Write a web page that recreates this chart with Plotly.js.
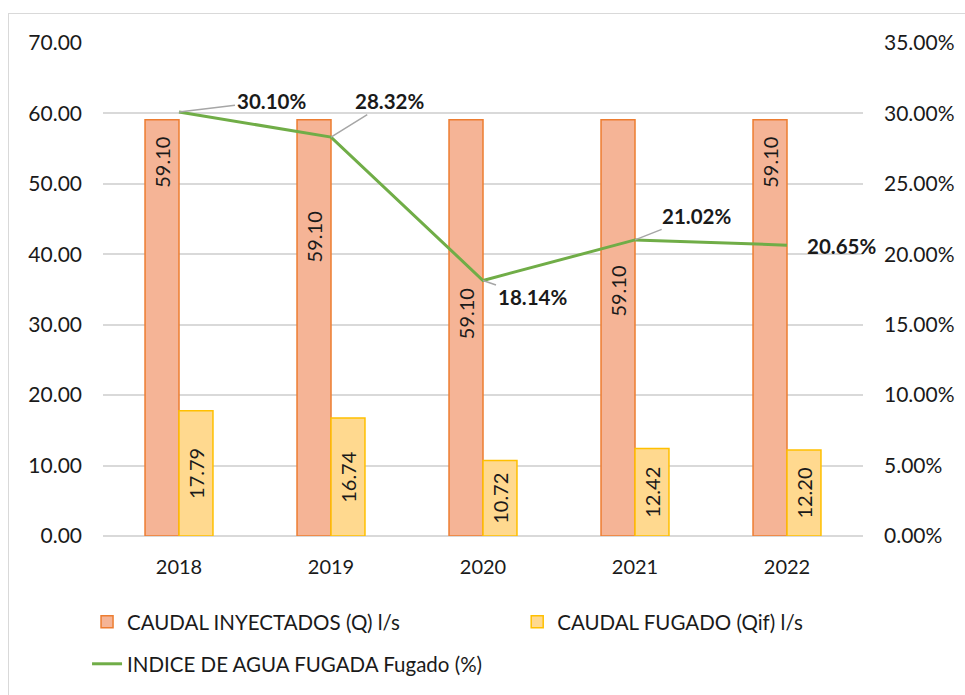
<!DOCTYPE html>
<html>
<head>
<meta charset="utf-8">
<script src="https://cdn.plot.ly/plotly-3.0.1.min.js"></script>
<style>
  html, body { margin: 0; padding: 0; background: #fff; overflow: hidden; }
  #chart { width: 965px; height: 695px; }
  #frame { position: absolute; left: 8px; top: 13px; width: 1200px; height: 1000px;
           border-left: 1.5px solid #D9D9D9; border-top: 1.5px solid #D9D9D9; pointer-events: none; }
</style>
</head>
<body>
<div id="chart"></div>
<div id="frame"></div>
<script>
// ---- data ----
const years = ['2018', '2019', '2020', '2021', '2022'];
const caudalInyectado = [59.10, 59.10, 59.10, 59.10, 59.10];
const caudalFugado = [17.79, 16.74, 10.72, 12.42, 12.20];
const indiceFugado = [0.3010, 0.2832, 0.1814, 0.2102, 0.2065];

const seriesNames = ['CAUDAL INYECTADOS (Q) l/s', 'CAUDAL FUGADO (Qif) l/s', 'INDICE DE AGUA FUGADA Fugado (%)'];

// label placement (styling, not data)
const injLabelY = [53.0, 42.4, 31.5, 34.7, 53.0];
const pctOffsets = [[92, -11], [58, -36], [49, 17], [61, -24], [54, 1]];

const FONT = 'Lato, "Open Sans", sans-serif';
const TXT = '#1a1a1a';

const traces = [
  {
    type: 'bar', name: seriesNames[0], x: years, y: caudalInyectado,
    marker: { color: '#F5B496', line: { color: '#ED7D31', width: 1.5 } },
    hoverinfo: 'y', legend: 'legend'
  },
  {
    type: 'bar', name: seriesNames[1], x: years, y: caudalFugado,
    marker: { color: '#FFD98F', line: { color: '#FFC000', width: 1.5 } },
    text: caudalFugado.map(v => v.toFixed(2)), textposition: 'inside',
    insidetextanchor: 'middle', textangle: -90,
    textfont: { family: FONT, size: 20, color: TXT },
    hoverinfo: 'y', legend: 'legend3'
  },
  {
    type: 'scatter', mode: 'lines', name: seriesNames[2], x: years, y: indiceFugado,
    yaxis: 'y2', line: { color: '#70AD47', width: 3 }, legend: 'legend2'
  }
];

// category axes: annotation x uses the category index
const annotations = [];
caudalInyectado.forEach((v, i) => {
  annotations.push({
    x: i, y: injLabelY[i], xref: 'x', yref: 'y', xshift: -17,
    text: v.toFixed(2), textangle: -90, showarrow: false,
    font: { family: FONT, size: 20, color: TXT }
  });
});
indiceFugado.forEach((v, i) => {
  annotations.push({
    x: i, y: v, xref: 'x', yref: 'y2',
    text: '<b>' + (v * 100).toFixed(2) + '%</b>',
    showarrow: true, arrowhead: 0, arrowwidth: 1.5, standoff: 0,
    arrowcolor: i === 4 ? 'rgba(0,0,0,0)' : '#A6A6A6',
    ax: pctOffsets[i][0], ay: pctOffsets[i][1],
    font: { family: FONT, size: 20.5, color: TXT }
  });
});

const legFont = { family: FONT, size: 20.5, color: TXT };

const layout = {
  width: 965, height: 695,
  margin: { l: 103, r: 102, t: 43, b: 158, pad: 0 },
  paper_bgcolor: '#fff', plot_bgcolor: '#fff',
  font: { family: FONT, size: 20, color: TXT },
  barmode: 'group', bargap: 0.553, bargroupgap: 0,
  showlegend: true,
  xaxis: {
    type: 'category', range: [-0.5, years.length - 0.5], autorange: false,
    showgrid: false, zeroline: false, showline: false,
    ticks: '', ticklabelstandoff: 17,
    tickfont: { family: FONT, size: 20, color: TXT }
  },
  yaxis: {
    range: [0, 70], autorange: false, dtick: 10, tickformat: '.2f',
    showgrid: true, gridcolor: '#D9D9D9', gridwidth: 1.5,
    zeroline: true, zerolinecolor: '#D9D9D9', zerolinewidth: 1.5,
    showline: false, ticks: '', ticklabelstandoff: 20,
    tickfont: { family: FONT, size: 21, color: TXT }
  },
  yaxis2: {
    range: [0, 0.35], autorange: false, dtick: 0.05, tickformat: '.2%',
    overlaying: 'y', side: 'right', showgrid: false, zeroline: false,
    showline: false, ticks: '', ticklabelstandoff: 20,
    tickfont: { family: FONT, size: 21, color: TXT }
  },
  legend: {
    orientation: 'h', x: -0.021, xanchor: 'left', y: -0.172, yanchor: 'middle',
    font: legFont, bgcolor: 'rgba(0,0,0,0)'
  },
  legend3: {
    orientation: 'h', x: 0.545, xanchor: 'left', y: -0.172, yanchor: 'middle',
    font: legFont, bgcolor: 'rgba(0,0,0,0)'
  },
  legend2: {
    orientation: 'h', x: -0.021, xanchor: 'left', y: -0.257, yanchor: 'middle',
    font: legFont, bgcolor: 'rgba(0,0,0,0)'
  },
  annotations: annotations
};

Plotly.newPlot('chart', traces, layout, { displayModeBar: false, responsive: false });
</script>
</body>
</html>
